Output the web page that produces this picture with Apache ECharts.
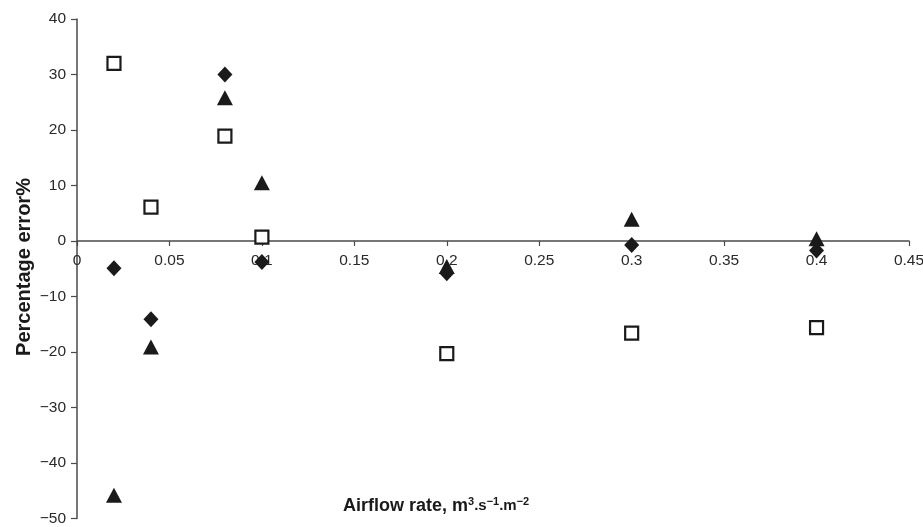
<!DOCTYPE html>
<html>
<head>
<meta charset="utf-8">
<script src="https://cdn.jsdelivr.net/npm/echarts@6/dist/echarts.min.js"></script>
<style>
html,body{margin:0;padding:0;background:#fff;}
#chart{width:923px;height:527px;}
</style>
</head>
<body>
<div id="chart"></div>
<script>
// Airflow rate (x) values
var airflow = [0.02, 0.04, 0.08, 0.1, 0.2, 0.3, 0.4];
// Percentage error series
var diamondErr = [-4.9, -14.1, 30.0, -3.8, -5.8, -0.7, -1.7];
var squareErr = [32.0, 6.1, 18.9, 0.7, -20.3, -16.6, -15.6];
var triangleErr = [-45.8, -19.1, 25.8, 10.5, -4.6, 3.9, 0.4];
// Axis settings
var xTicks = [0, 0.05, 0.1, 0.15, 0.2, 0.25, 0.3, 0.35, 0.4, 0.45];
var yTicks = [-50, -40, -30, -20, -10, 0, 10, 20, 30, 40];
var yTitle = 'Percentage error%';

function pairs(xs, ys) {
  return xs.map(function (x, i) { return [x, ys[i]]; });
}

var chart = echarts.init(document.getElementById('chart'));
var axisColor = '#4a4a4a';
var labelColor = '#2a2a2a';
var font = 'Liberation Sans, Arial, sans-serif';

var gridTop = 19, gridBottom = 8.5, H = 527;
var plotH = H - gridTop - gridBottom;
var yMin = yTicks[0], yMax = yTicks[yTicks.length - 1];
// shift bottom axis up to the zero line
var zeroOffset = -plotH * (0 - yMin) / (yMax - yMin);

chart.setOption({
  animation: false,
  backgroundColor: '#fff',
  grid: { left: 77, right: 14, top: gridTop, bottom: gridBottom, containLabel: false, outerBoundsMode: 'none' },
  xAxis: {
    type: 'value',
    position: 'bottom',
    offset: zeroOffset,
    min: xTicks[0],
    max: xTicks[xTicks.length - 1],
    interval: 0.05,
    splitLine: { show: false },
    axisLine: { show: true, onZero: false, lineStyle: { color: axisColor, width: 1.5 } },
    axisTick: { show: true, length: 5, lineStyle: { color: axisColor, width: 1.2 } },
    axisLabel: {
      show: true, margin: 12, color: labelColor, fontSize: 15.5, fontFamily: font,
      showMinLabel: true, showMaxLabel: true, hideOverlap: false,
      formatter: function (v) { return String(+(+v).toFixed(2)); }
    }
  },
  yAxis: {
    type: 'value',
    min: yMin,
    max: yMax,
    interval: 10,
    splitLine: { show: false },
    axisLine: { show: true, onZero: false, lineStyle: { color: axisColor, width: 1.5 } },
    axisTick: { show: true, length: 6, lineStyle: { color: axisColor, width: 1.2 } },
    axisLabel: {
      show: true, margin: 11, color: labelColor, fontSize: 15.5, fontFamily: font,
      formatter: function (v) { return String(v).replace('-', '\u2212'); }
    }
  },
  graphic: [
    {
      type: 'text',
      x: 24, y: 267,
      rotation: Math.PI / 2,
      style: {
        text: yTitle,
        fill: '#1a1a1a',
        font: 'bold 20px Liberation Sans, Arial, sans-serif',
        align: 'center',
        verticalAlign: 'middle'
      }
    },
    {
      type: 'text',
      x: 343, y: 506,
      style: {
        text: '{b|Airflow rate, m}{sup|3}{s|.s}{sup|\u22121}{s|.m}{sup|\u22122}',
        fill: '#1a1a1a',
        align: 'left',
        verticalAlign: 'middle',
        rich: {
          b: { font: 'bold 18px Liberation Sans, Arial, sans-serif', fill: '#1a1a1a', lineHeight: 20 },
          s: { font: 'bold 15px Liberation Sans, Arial, sans-serif', fill: '#1a1a1a', lineHeight: 20 },
          sup: { font: 'bold 11px Liberation Sans, Arial, sans-serif', fill: '#1a1a1a', verticalAlign: 'top', lineHeight: 12 }
        }
      }
    }
  ],
  series: [
    {
      name: 'Diamond', type: 'scatter', data: pairs(airflow, diamondErr),
      symbol: 'diamond', symbolSize: [15, 16],
      itemStyle: { color: '#1a1a1a', opacity: 1 }, z: 3
    },
    {
      name: 'Square', type: 'scatter', data: pairs(airflow, squareErr),
      symbol: 'rect', symbolSize: 13,
      itemStyle: { color: '#fff', borderColor: '#1a1a1a', borderWidth: 2.2, opacity: 1 }, z: 2
    },
    {
      name: 'Triangle', type: 'scatter', data: pairs(airflow, triangleErr),
      symbol: 'triangle', symbolSize: [16, 15],
      itemStyle: { color: '#1a1a1a', opacity: 1 }, z: 2
    }
  ]
});
</script>
</body>
</html>
